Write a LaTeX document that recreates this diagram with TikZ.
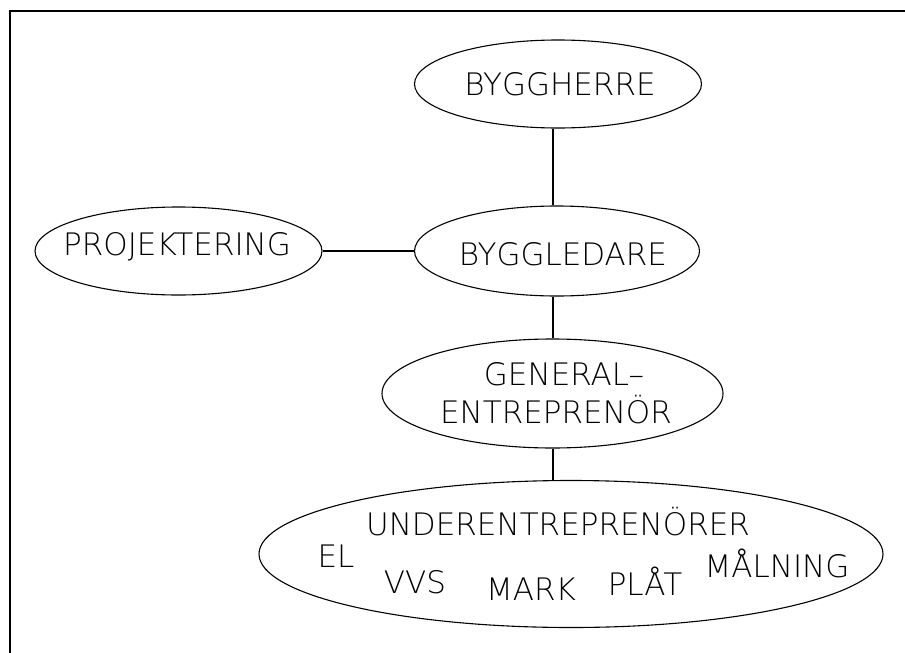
\documentclass[tikz,border=0pt]{standalone}
\usepackage{fontspec}
\setmainfont{DejaVu Sans ExtraLight}
\usetikzlibrary{shapes.geometric}
\tikzset{
  ell/.style={draw, ellipse, inner sep=0pt, line width=1.1pt},
  lbl/.style={anchor=base, inner sep=0pt, font=\fontsize{31}{31}\selectfont},
  conn/.style={line width=1.1pt},
  frameline/.style={line width=2.5pt}
}
\begin{document}
\begin{tikzpicture}[x=1pt,y=-1pt]
\useasboundingbox (0,0) rectangle (905,653);
% frame
\coordinate (fTL) at (10,11);
\coordinate (fTR) at (905,11);
\coordinate (fBL) at (10,653);
\draw[frameline] (fTR) -- (fTL) -- (fBL);
% ellipses
\node[ell, minimum width=287pt, minimum height=88pt] (bh) at (558,84) {};
\node[ell, minimum width=285pt, minimum height=90pt] (bl) at (557,251) {};
\node[ell, minimum width=287pt, minimum height=88pt] (pj) at (178.5,251) {};
\node[ell, minimum width=341pt, minimum height=109pt] (ge) at (552.5,393.5) {};
\node[ell, minimum width=624pt, minimum height=147pt] (ue) at (571,554) {};
% texts
\node[lbl] (tbh) at (560,95) {BYGGHERRE};
\node[lbl] (tbl) at (563,265) {BYGGLEDARE};
\node[lbl] (tpj) at (177,255) {PROJEKTERING};
\node[lbl] (tge1) at (564,385) {GENERAL–};
\node[lbl] (tge2) at (556,423) {ENTREPRENÖR};
\node[lbl] (tue) at (558,535) {UNDERENTREPRENÖRER};
\node[lbl] (tel) at (336,567) {EL};
\node[lbl] (tvvs) at (415,593) {VVS};
\node[lbl] (tmark) at (531,600) {MARK};
\node[lbl] (tplat) at (645,595) {PLÅT};
\node[lbl] (tmal) at (777,577) {MÅLNING};
% connectors
\coordinate (axis) at (553,0);
\draw[conn] (axis |- bh.south) -- (axis |- bl.north);
\draw[conn] (axis |- bl.south) -- (axis |- ge.north);
\draw[conn] (axis |- ge.south) -- (axis |- ue.north);
\draw[conn] (pj.east) -- (bl.west);
\end{tikzpicture}
\end{document}
